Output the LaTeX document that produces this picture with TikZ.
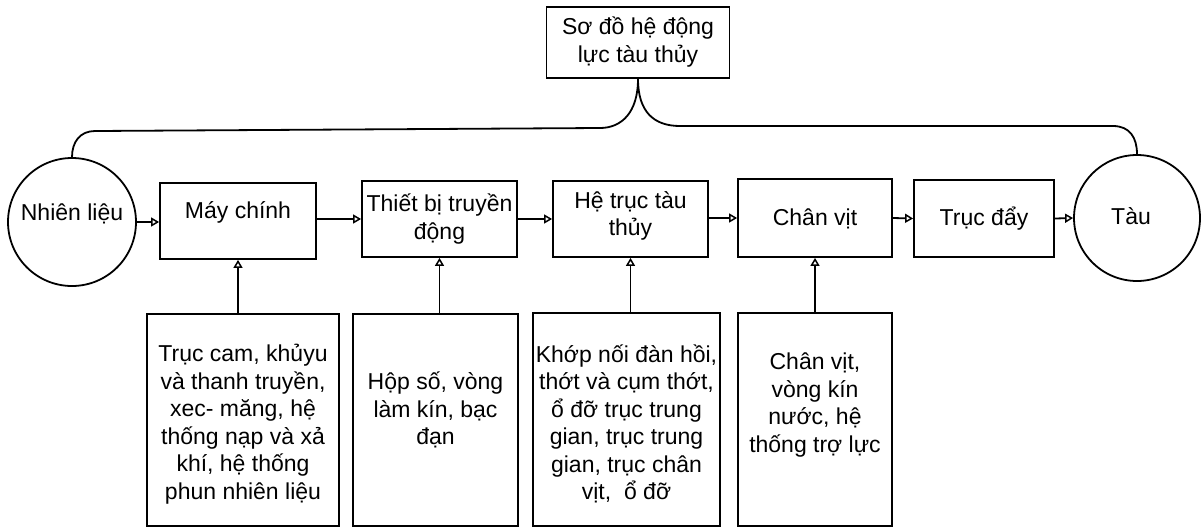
\documentclass[tikz,border=0pt]{standalone}
\usepackage{fontspec}
\setmainfont{Liberation Sans}
\usetikzlibrary{arrows.meta}
\tikzset{
  box/.style={draw, line width=1.8pt, rectangle, inner sep=0pt},
  circ/.style={draw, line width=1.8pt, circle, inner sep=0pt},
  txt/.style={align=center, inner sep=0pt, font=\fontsize{23}{27.5}\selectfont},
  arr/.style={line width=1.8pt, -{Triangle[open, length=8pt, width=9pt, line width=1.5pt]}},
  conn/.style={line width=1.8pt}
}
\begin{document}
\begin{tikzpicture}[x=1pt, y=-1pt]
\useasboundingbox (0,0) rectangle (1204,528);
% top
\node[box, minimum width=183pt, minimum height=71pt] (top) at (638,42.5) {};
\node[txt] (topt) at (638,42) {Sơ đồ hệ động\\lực tàu thủy};
% circles
\node[circ, minimum size=128pt] (nl) at (72,222) {};
\node[txt, anchor=base] (nlt) at (72,220) {Nhiên liệu};
\node[circ, minimum size=126pt] (tau) at (1137,218) {};
\node[txt, anchor=base] (taut) at (1131,224) {Tàu};
% main row
\node[box, minimum width=156pt, minimum height=76pt] (mc) at (238,221) {};
\node[txt, anchor=base] (mct) at (238,218) {Máy chính};
\node[box, minimum width=155pt, minimum height=76pt] (tb) at (439.5,219) {};
\node[txt] (tbt) at (439.5,219) {Thiết bị truyền\\động};
\node[box, minimum width=155pt, minimum height=76pt] (ht) at (630.5,219) {};
\node[txt] (htt) at (630.5,216) {Hệ trục tàu\\thủy};
\node[box, minimum width=154pt, minimum height=78pt] (cv) at (815,218) {};
\node[txt, anchor=base] (cvt) at (815,225) {Chân vịt};
\node[box, minimum width=140pt, minimum height=77pt] (td) at (984,218.5) {};
\node[txt, anchor=base] (tdt) at (984,225) {Trục đẩy};
% bottom boxes
\node[box, minimum width=192pt, minimum height=212pt] (b1) at (243,420) {};
\node[txt] (b1t) at (243,424) {Trục cam, khủyu\\và thanh truyền,\\xec- măng, hệ\\thống nạp và xả\\khí, hệ thống\\phun nhiên liệu};
\node[box, minimum width=165pt, minimum height=212pt] (b2) at (435.5,420) {};
\node[txt] (b2t) at (435.5,410) {Hộp số, vòng\\làm kín, bạc\\đạn};
\node[box, minimum width=187pt, minimum height=213pt] (b3) at (626.5,419.5) {};
\node[txt] (b3t) at (626.5,424) {Khớp nối đàn hồi,\\thớt và cụm thớt,\\ổ đỡ trục trung\\gian, trục trung\\gian, trục chân\\vịt,\ \ ổ đỡ};
\node[box, minimum width=154pt, minimum height=213pt] (b4) at (815,419.5) {};
\node[txt] (b4t) at (815,405) {Chân vịt,\\vòng kín\\nước, hệ\\thống trợ lực};
% horizontal arrows
\draw[arr] (nl.east) -- (mc.west |- nl.east);
\draw[arr] (mc.east |- tb.west) -- (tb.west);
\draw[arr] (tb.east) -- (ht.west);
\draw[arr] (ht.east |- cv.west) -- (cv.west);
\draw[arr] (cv.east) -- (td.west);
\draw[arr] (td.east) -- (tau.west);
% vertical arrows
\draw[arr] (b1.north -| mc.south) -- (mc.south);
\draw[arr] (b2.north -| tb.south) -- (tb.south);
\draw[arr] (b3.north -| ht.south) -- (ht.south);
\draw[arr] (b4.north -| cv.south) -- (cv.south);
% brace connector
\coordinate (bl) at (600,128);
\coordinate (br) at (680,126);
\coordinate (cl) at (95,131);
\coordinate (cr) at (1113,126);
\draw[conn] (top.south) .. controls (638,112) and (622,128) .. (bl) -- (cl)
  .. controls (80,131) and (72,142) .. (nl.north);
\draw[conn] (top.south) .. controls (638,112) and (654,126) .. (br) -- (cr)
  .. controls (1130,126) and (1137,138) .. (tau.north);
\end{tikzpicture}
\end{document}
